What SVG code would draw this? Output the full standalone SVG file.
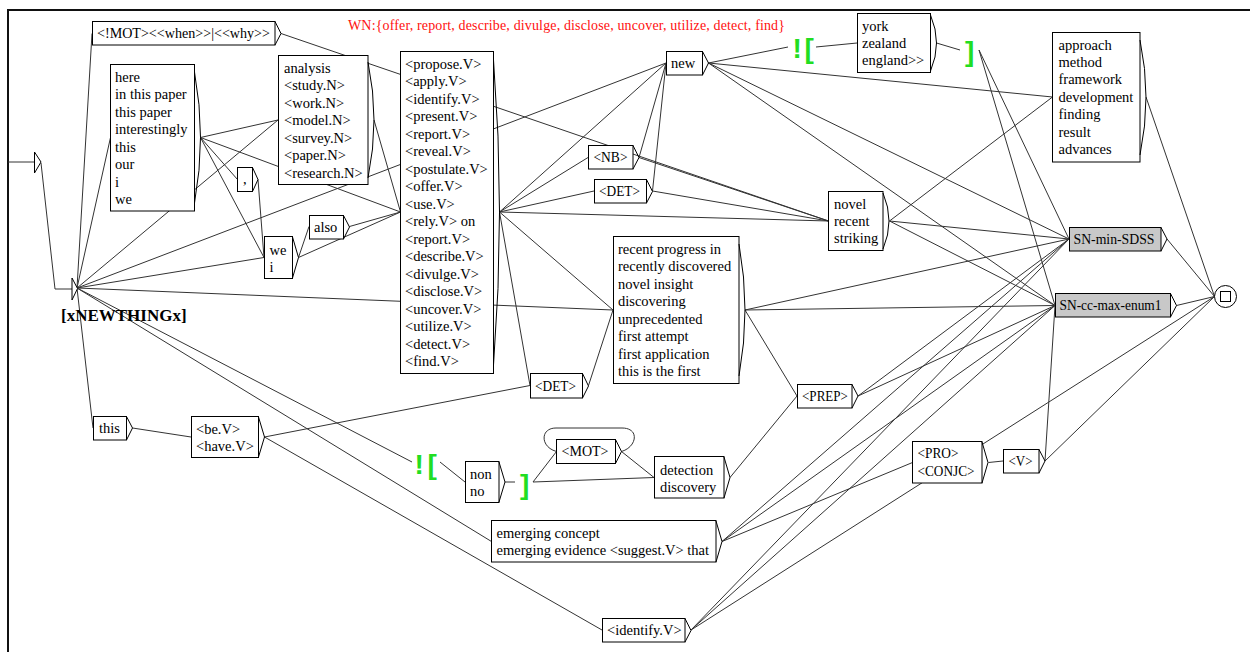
<svg xmlns="http://www.w3.org/2000/svg" width="1250" height="652" viewBox="0 0 1250 652">
<style>
.b{fill:#fff;stroke:#000;stroke-width:1}
.gr{fill:#c8c8c8;stroke:#000;stroke-width:1}
.o{fill:none;stroke:#000;stroke-width:1}
.t{font-family:"Liberation Serif","Times New Roman",serif;font-size:14.5px;fill:#000}
.ctx{font-family:"Liberation Sans",Arial,sans-serif;font-weight:bold;font-size:28px;fill:#22dd22}
#connectors line,#connectors path,#connectors polyline{stroke:#333;stroke-width:1;fill:none}
</style>
<rect x="0" y="0" width="1250" height="652" fill="#fff"/>
<g id="frame" stroke="#111" stroke-width="2">
<line x1="7" y1="10" x2="1250" y2="10"/>
<line x1="8" y1="10" x2="8" y2="652"/>
</g>
<text x="348" y="30" font-family="'Liberation Serif','Times New Roman',serif" font-size="14" fill="#ff1010" textLength="437" lengthAdjust="spacing">WN:{offer, report, describe, divulge, disclose, uncover, utilize, detect, find}</text>
<g id="connectors">
<polyline points="41,163 55,289 72,289"/>
<line x1="77" y1="288" x2="92" y2="33.5"/>
<line x1="77" y1="288" x2="110.5" y2="137.5"/>
<line x1="77" y1="288" x2="278" y2="120"/>
<line x1="77" y1="288" x2="264" y2="257.5"/>
<line x1="77" y1="288" x2="666" y2="63"/>
<line x1="77" y1="288" x2="613" y2="310"/>
<line x1="77" y1="288" x2="93" y2="428"/>
<line x1="77" y1="288" x2="412" y2="462"/>
<line x1="77" y1="288" x2="491.5" y2="541.5"/>
<line x1="281" y1="33.5" x2="828.5" y2="221"/>
<line x1="200.5" y1="137.5" x2="278" y2="120"/>
<line x1="200.5" y1="137.5" x2="400.5" y2="212"/>
<line x1="200.5" y1="137.5" x2="237.5" y2="179.5"/>
<line x1="200.5" y1="137.5" x2="264" y2="257.5"/>
<line x1="374" y1="120" x2="400.5" y2="212"/>
<line x1="258" y1="179.5" x2="264" y2="257.5"/>
<line x1="298.5" y1="257.5" x2="309" y2="226.5"/>
<line x1="298.5" y1="257.5" x2="400.5" y2="212"/>
<line x1="349.5" y1="226.5" x2="400.5" y2="212"/>
<line x1="132.5" y1="428" x2="191" y2="437"/>
<line x1="264.5" y1="437" x2="530" y2="385.5"/>
<line x1="264.5" y1="437" x2="602" y2="630"/>
<line x1="499.5" y1="212" x2="666" y2="63"/>
<line x1="499.5" y1="212" x2="588" y2="157.5"/>
<line x1="499.5" y1="212" x2="594" y2="191"/>
<line x1="499.5" y1="212" x2="828.5" y2="221"/>
<line x1="499.5" y1="212" x2="613" y2="310"/>
<line x1="499.5" y1="212" x2="530" y2="385.5"/>
<line x1="639" y1="157.5" x2="666" y2="63"/>
<line x1="639" y1="157.5" x2="828.5" y2="221"/>
<line x1="652.5" y1="191" x2="666" y2="63"/>
<line x1="652.5" y1="191" x2="828.5" y2="221"/>
<line x1="708.5" y1="63" x2="788" y2="47"/>
<line x1="708.5" y1="63" x2="1052.5" y2="97"/>
<line x1="708.5" y1="63" x2="1069" y2="239"/>
<line x1="708.5" y1="63" x2="1055" y2="305.5"/>
<line x1="816" y1="47" x2="857" y2="43"/>
<line x1="936.5" y1="43" x2="960" y2="50"/>
<line x1="979" y1="50" x2="1069" y2="239"/>
<line x1="979" y1="50" x2="1055" y2="305.5"/>
<line x1="889.5" y1="221" x2="1052.5" y2="97"/>
<line x1="889.5" y1="221" x2="1069" y2="239"/>
<line x1="889.5" y1="221" x2="1055" y2="305.5"/>
<line x1="1146" y1="97" x2="1214.5" y2="296.5"/>
<line x1="1167" y1="239" x2="1214.5" y2="296.5"/>
<line x1="1176.5" y1="305.5" x2="1214.5" y2="296.5"/>
<line x1="745" y1="310" x2="1069" y2="239"/>
<line x1="745" y1="310" x2="1055" y2="305.5"/>
<line x1="745" y1="310" x2="797" y2="396"/>
<line x1="588.5" y1="385.5" x2="613" y2="310"/>
<line x1="440" y1="462" x2="465" y2="482"/>
<line x1="505" y1="482" x2="515" y2="482"/>
<line x1="533" y1="482" x2="556.5" y2="451.5"/>
<line x1="533" y1="482" x2="654" y2="477.5"/>
<line x1="621.5" y1="451.5" x2="654" y2="477.5"/>
<path d="M621.5,451.5 C637,447 640,428 622,428 L556,428 C540,428 540,447 556.5,451.5"/>
<line x1="730" y1="477.5" x2="797" y2="396"/>
<line x1="858" y1="396" x2="1069" y2="239"/>
<line x1="858" y1="396" x2="1055" y2="305.5"/>
<line x1="722" y1="541.5" x2="1069" y2="239"/>
<line x1="722" y1="541.5" x2="1055" y2="305.5"/>
<line x1="722" y1="541.5" x2="912.5" y2="462.5"/>
<line x1="691" y1="630" x2="1069" y2="239"/>
<line x1="691" y1="630" x2="1055" y2="305.5"/>
<line x1="691" y1="630" x2="1214.5" y2="296.5"/>
<line x1="988.5" y1="462.5" x2="1003" y2="461"/>
<line x1="1045" y1="461" x2="1055" y2="305.5"/>
<line x1="1045" y1="461" x2="1214.5" y2="296.5"/>
</g>
<g id="initial">
<line x1="8" y1="162" x2="34.5" y2="162" stroke="#333"/>
<polygon class="b" points="34.5,152 41,162 34.5,173"/>
</g>
<g id="xnewthingx">
<polygon class="b" points="72,278 77.5,288.5 72,300"/>
<text x="61" y="321" font-family="'Liberation Serif','Times New Roman',serif" font-size="17" font-weight="bold">[xNEWTHINGx]</text>
</g>
<g id="n-mot-when-why">
<rect class="b" x="92.5" y="21.5" width="182.5" height="23.5"/>
<polyline class="o" points="275,21.5 281,33.5 275,45"/>
<text class="t" x="97" y="38" textLength="173" lengthAdjust="spacingAndGlyphs">&lt;!MOT&gt;&lt;&lt;when&gt;&gt;|&lt;&lt;why&gt;&gt;</text>
</g>
<g id="n-here">
<rect class="b" x="110.5" y="64.5" width="84" height="146.5"/>
<path class="o" d="M194.5,72 Q206.5,137.5 194.5,203"/>
<text class="t"><tspan x="115" y="82">here</tspan><tspan x="115" dy="17.45">in this paper</tspan><tspan x="115" dy="17.45">this paper</tspan><tspan x="115" dy="17.45">interestingly</tspan><tspan x="115" dy="17.45">this</tspan><tspan x="115" dy="17.45">our</tspan><tspan x="115" dy="17.45">i</tspan><tspan x="115" dy="17.45">we</tspan></text>
</g>
<g id="n-analysis">
<rect class="b" x="278.5" y="55.5" width="89.5" height="129"/>
<path class="o" d="M368,62 Q380,120 368,178"/>
<text class="t"><tspan x="284" y="73">analysis</tspan><tspan x="284" dy="17.45">&lt;study.N&gt;</tspan><tspan x="284" dy="17.45">&lt;work.N&gt;</tspan><tspan x="284" dy="17.45">&lt;model.N&gt;</tspan><tspan x="284" dy="17.45">&lt;survey.N&gt;</tspan><tspan x="284" dy="17.45">&lt;paper.N&gt;</tspan><tspan x="284" dy="17.45">&lt;research.N&gt;</tspan></text>
</g>
<g id="n-verbs">
<rect class="b" x="400.5" y="51.5" width="93" height="322"/>
<path class="o" d="M493.5,60 Q505.5,212 493.5,365"/>
<text class="t"><tspan x="405" y="68.5">&lt;propose.V&gt;</tspan><tspan x="405" dy="17.5">&lt;apply.V&gt;</tspan><tspan x="405" dy="17.5">&lt;identify.V&gt;</tspan><tspan x="405" dy="17.5">&lt;present.V&gt;</tspan><tspan x="405" dy="17.5">&lt;report.V&gt;</tspan><tspan x="405" dy="17.5">&lt;reveal.V&gt;</tspan><tspan x="405" dy="17.5">&lt;postulate.V&gt;</tspan><tspan x="405" dy="17.5">&lt;offer.V&gt;</tspan><tspan x="405" dy="17.5">&lt;use.V&gt;</tspan><tspan x="405" dy="17.5">&lt;rely.V&gt; on</tspan><tspan x="405" dy="17.5">&lt;report.V&gt;</tspan><tspan x="405" dy="17.5">&lt;describe.V&gt;</tspan><tspan x="405" dy="17.5">&lt;divulge.V&gt;</tspan><tspan x="405" dy="17.5">&lt;disclose.V&gt;</tspan><tspan x="405" dy="17.5">&lt;uncover.V&gt;</tspan><tspan x="405" dy="17.5">&lt;utilize.V&gt;</tspan><tspan x="405" dy="17.5">&lt;detect.V&gt;</tspan><tspan x="405" dy="17.5">&lt;find.V&gt;</tspan></text>
</g>
<g id="n-comma">
<rect class="b" x="237.5" y="167.5" width="15" height="24"/>
<polyline class="o" points="252.5,167.5 258,179.5 252.5,191.5"/>
<text class="t" x="243" y="184">,</text>
</g>
<g id="n-we-i">
<rect class="b" x="264.5" y="236.5" width="28" height="42"/>
<polyline class="o" points="292.5,237 298.5,257.5 292.5,278"/>
<text class="t"><tspan x="269.5" y="254.5">we</tspan><tspan x="269.5" dy="17.45">i</tspan></text>
</g>
<g id="n-also">
<rect class="b" x="309.5" y="215.5" width="34" height="23.5"/>
<polyline class="o" points="343.5,215.5 349.5,227 343.5,239"/>
<text class="t" x="314" y="231.5">also</text>
</g>
<g id="n-this">
<rect class="b" x="93.5" y="416.5" width="33" height="23.5"/>
<polyline class="o" points="126.5,416.5 132.5,428 126.5,440"/>
<text class="t" x="99" y="432.5">this</text>
</g>
<g id="n-be-have">
<rect class="b" x="191.5" y="416.5" width="67" height="41"/>
<polyline class="o" points="258.5,417 264.5,437 258.5,457"/>
<text class="t"><tspan x="196" y="433.5">&lt;be.V&gt;</tspan><tspan x="196" dy="17.45">&lt;have.V&gt;</tspan></text>
</g>
<g id="n-ctx-open-low">
<text class="ctx"><tspan x="414.5" y="474">!</tspan><tspan x="427.5" y="474">[</tspan></text>
</g>
<g id="n-non-no">
<rect class="b" x="465.5" y="461.5" width="33.5" height="41"/>
<polyline class="o" points="499,462 505,482 499,502"/>
<text class="t"><tspan x="470" y="478.5">non</tspan><tspan x="470" dy="17.45">no</tspan></text>
</g>
<g id="n-ctx-close-low">
<text class="ctx" x="520" y="494">]</text>
</g>
<g id="n-mot">
<rect class="b" x="556.5" y="439.5" width="59" height="24"/>
<polyline class="o" points="615.5,439.5 621.5,451.5 615.5,463.5"/>
<text class="t" x="561.5" y="456" textLength="47" lengthAdjust="spacingAndGlyphs">&lt;MOT&gt;</text>
</g>
<g id="n-detection">
<rect class="b" x="654.5" y="456.5" width="69.5" height="41.5"/>
<polyline class="o" points="724,457 730,477.5 724,498"/>
<text class="t"><tspan x="660" y="474.5">detection</tspan><tspan x="660" dy="17.45">discovery</tspan></text>
</g>
<g id="n-emerging">
<rect class="b" x="491.5" y="520.5" width="224.5" height="41.5"/>
<polyline class="o" points="716,521 722,541.5 716,562"/>
<text class="t"><tspan x="496.5" y="538">emerging concept</tspan><tspan x="496.5" dy="17.45">emerging evidence &lt;suggest.V&gt; that</tspan></text>
</g>
<g id="n-identify">
<rect class="b" x="602.5" y="618.5" width="82.5" height="23.5"/>
<polyline class="o" points="685,618.5 691,630.5 685,642"/>
<text class="t" x="607" y="635">&lt;identify.V&gt;</text>
</g>
<g id="n-new">
<rect class="b" x="666.5" y="51.5" width="36" height="23.5"/>
<polyline class="o" points="702.5,51.5 708.5,63 702.5,75"/>
<text class="t" x="671" y="67.5">new</text>
</g>
<g id="n-nb">
<rect class="b" x="588.5" y="145.5" width="44.5" height="23.5"/>
<polyline class="o" points="633,145.5 639,157.5 633,169"/>
<text class="t" x="593.5" y="162" textLength="34" lengthAdjust="spacingAndGlyphs">&lt;NB&gt;</text>
</g>
<g id="n-det-up">
<rect class="b" x="594.5" y="179.5" width="52" height="23.5"/>
<polyline class="o" points="646.5,179.5 652.5,191.5 646.5,203"/>
<text class="t" x="599" y="196" textLength="41" lengthAdjust="spacingAndGlyphs">&lt;DET&gt;</text>
</g>
<g id="n-ctx-open-up">
<text class="ctx"><tspan x="792.5" y="58">!</tspan><tspan x="804.5" y="58">[</tspan></text>
</g>
<g id="n-york">
<rect class="b" x="857.5" y="13.5" width="73" height="59"/>
<path class="o" d="M930.5,15 Q942.5,43 930.5,71"/>
<text class="t"><tspan x="862" y="30.5">york</tspan><tspan x="862" dy="17.45">zealand</tspan><tspan x="862" dy="17.45">england&gt;&gt;</tspan></text>
</g>
<g id="n-ctx-close-up">
<text class="ctx" x="965" y="61">]</text>
</g>
<g id="n-approach">
<rect class="b" x="1052.5" y="32.5" width="87.5" height="129.5"/>
<path class="o" d="M1140,40 Q1152,97 1140,155"/>
<text class="t"><tspan x="1058.5" y="49.5">approach</tspan><tspan x="1058.5" dy="17.45">method</tspan><tspan x="1058.5" dy="17.45">framework</tspan><tspan x="1058.5" dy="17.45">development</tspan><tspan x="1058.5" dy="17.45">finding</tspan><tspan x="1058.5" dy="17.45">result</tspan><tspan x="1058.5" dy="17.45">advances</tspan></text>
</g>
<g id="n-novel">
<rect class="b" x="828.5" y="191.5" width="54.5" height="59"/>
<path class="o" d="M883,193 Q895,221 883,249"/>
<text class="t"><tspan x="834" y="208.5">novel</tspan><tspan x="834" dy="17.45">recent</tspan><tspan x="834" dy="17.45">striking</tspan></text>
</g>
<g id="n-sn-min">
<rect class="gr" x="1069.5" y="227.5" width="91.5" height="23.5"/>
<polyline class="o" points="1161,227.5 1167,239 1161,251"/>
<text class="t" x="1073.5" y="243.5" textLength="81" lengthAdjust="spacingAndGlyphs">SN-min-SDSS</text>
</g>
<g id="n-sn-cc">
<rect class="gr" x="1055.5" y="293.5" width="115" height="23.5"/>
<polyline class="o" points="1170.5,293.5 1176.5,305.5 1170.5,317"/>
<text class="t" x="1059.5" y="310" textLength="102" lengthAdjust="spacingAndGlyphs">SN-cc-max-enum1</text>
</g>
<g id="n-recent">
<rect class="b" x="613.5" y="236.5" width="125.5" height="147"/>
<path class="o" d="M739,244 Q751,310 739,376"/>
<text class="t"><tspan x="618" y="254">recent progress in</tspan><tspan x="618" dy="17.45">recently discovered</tspan><tspan x="618" dy="17.45">novel insight</tspan><tspan x="618" dy="17.45">discovering</tspan><tspan x="618" dy="17.45">unprecedented</tspan><tspan x="618" dy="17.45">first attempt</tspan><tspan x="618" dy="17.45">first application</tspan><tspan x="618" dy="17.45">this is the first</tspan></text>
</g>
<g id="n-det-low">
<rect class="b" x="530.5" y="373.5" width="52" height="24.5"/>
<polyline class="o" points="582.5,373.5 588.5,386 582.5,398"/>
<text class="t" x="535" y="390.5" textLength="41" lengthAdjust="spacingAndGlyphs">&lt;DET&gt;</text>
</g>
<g id="n-prep">
<rect class="b" x="797.5" y="384.5" width="54.5" height="23.5"/>
<polyline class="o" points="852,384.5 858,396 852,408"/>
<text class="t" x="802" y="400.5" textLength="46" lengthAdjust="spacingAndGlyphs">&lt;PREP&gt;</text>
</g>
<g id="n-pro-conjc">
<rect class="b" x="912.5" y="441.5" width="69.5" height="41.5"/>
<polyline class="o" points="982,442 988,462.5 982,483"/>
<text class="t"><tspan x="917.5" y="458" textLength="41" lengthAdjust="spacingAndGlyphs">&lt;PRO&gt;</tspan><tspan x="917.5" y="475.5" textLength="57" lengthAdjust="spacingAndGlyphs">&lt;CONJC&gt;</tspan></text>
</g>
<g id="n-v">
<rect class="b" x="1003.5" y="449.5" width="35.5" height="23.5"/>
<polyline class="o" points="1039,449.5 1045,461 1039,473"/>
<text class="t" x="1008.5" y="465.5" textLength="24" lengthAdjust="spacingAndGlyphs">&lt;V&gt;</text>
</g>
<g id="final">
<circle class="b" cx="1225.5" cy="296.5" r="11"/>
<rect class="o" x="1220.5" y="291.5" width="10" height="10"/>
</g>
</svg>
